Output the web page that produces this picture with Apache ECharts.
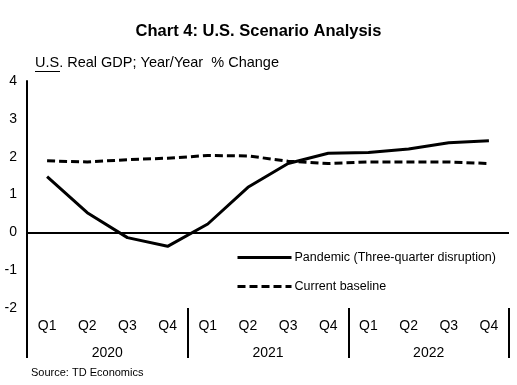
<!DOCTYPE html>
<html><head><meta charset="utf-8">
<script src="https://cdn.jsdelivr.net/npm/echarts@6/dist/echarts.min.js"></script>
<style>html,body{margin:0;padding:0;background:#fff}#c{width:517px;height:385px}</style>
</head><body><div id="c"></div>
<script>
const quarters = ['Q1','Q2','Q3','Q4','Q1','Q2','Q3','Q4','Q1','Q2','Q3','Q4'];
const years = ['2020','2021','2022'];
const pandemic = [1.47, 0.52, -0.14, -0.37, 0.22, 1.19, 1.82, 2.09, 2.11, 2.2, 2.37, 2.42];
const baseline = [1.89, 1.86, 1.92, 1.96, 2.03, 2.02, 1.88, 1.82, 1.86, 1.86, 1.86, 1.82];
const yTicks = [-2, -1, 0, 1, 2, 3, 4];

const font = 'Liberation Sans, Arial, sans-serif';
const chart = echarts.init(document.getElementById('c'));
chart.setOption({
  animation: false,
  backgroundColor: '#fff',
  title: {
    text: 'Chart 4: U.S. Scenario Analysis',
    left: 'center', top: 18,
    textStyle: { fontFamily: font, fontSize: 16.5, fontWeight: 'bold', color: '#000' }
  },
  graphic: [
    { type: 'text', left: 35, top: 55, style: { text: 'U.S. Real GDP; Year/Year  % Change', font: '14.5px ' + font, fill: '#000' } },
    { type: 'rect', left: 35, top: 71, shape: { width: 25, height: 1 }, style: { fill: '#000' } },
    { type: 'text', left: 31, top: 367, style: { text: 'Source: TD Economics', font: '11px ' + font, fill: '#000' } }
  ],
  legend: {
    orient: 'vertical', left: 231, top: 246, itemWidth: 54, itemHeight: 14, itemGap: 16,
    textStyle: { fontFamily: font, fontSize: 12.5, color: '#000', padding: [0, 0, 0, -2] },
    itemStyle: { color: 'rgba(0,0,0,0)', borderWidth: 0 },
    lineStyle: { width: 3 },
    data: ['Pandemic (Three-quarter disruption)', 'Current baseline']
  },
  grid: { left: 27, right: 8, top: 81, bottom: 77, containLabel: false },
  xAxis: [
    {
      type: 'category', data: quarters, position: 'bottom',
      axisLine: { show: false, onZero: false }, axisTick: { show: false },
      axisLabel: { margin: 11, fontFamily: font, fontSize: 14, color: '#000' }
    },
    {
      type: 'category', data: years, position: 'bottom',
      axisLine: { show: false, onZero: false },
      axisTick: { show: true, length: 50, lineStyle: { color: '#000', width: 2 } },
      axisLabel: { margin: 38, fontFamily: font, fontSize: 14, color: '#000' }
    }
  ],
  yAxis: {
    type: 'value', min: yTicks[0], max: yTicks[yTicks.length - 1], interval: 1,
    axisLine: { show: true, lineStyle: { color: '#000', width: 2 } },
    axisTick: { show: false }, splitLine: { show: false },
    axisLabel: { margin: 10, fontFamily: font, fontSize: 14, color: '#000' }
  },
  series: [
    {
      name: 'Pandemic (Three-quarter disruption)', type: 'line', data: pandemic,
      symbol: 'none', lineStyle: { color: '#000', width: 3, type: 'solid' }, itemStyle: { color: '#000' },
      markLine: {
        silent: true, symbol: 'none', label: { show: false },
        lineStyle: { color: '#000', width: 2, type: 'solid' },
        data: [{ yAxis: 0 }]
      }
    },
    {
      name: 'Current baseline', type: 'line', data: baseline,
      symbol: 'none', lineStyle: { color: '#000', width: 3, type: [8, 4] }, itemStyle: { color: '#000' }
    }
  ]
});
</script></body></html>
